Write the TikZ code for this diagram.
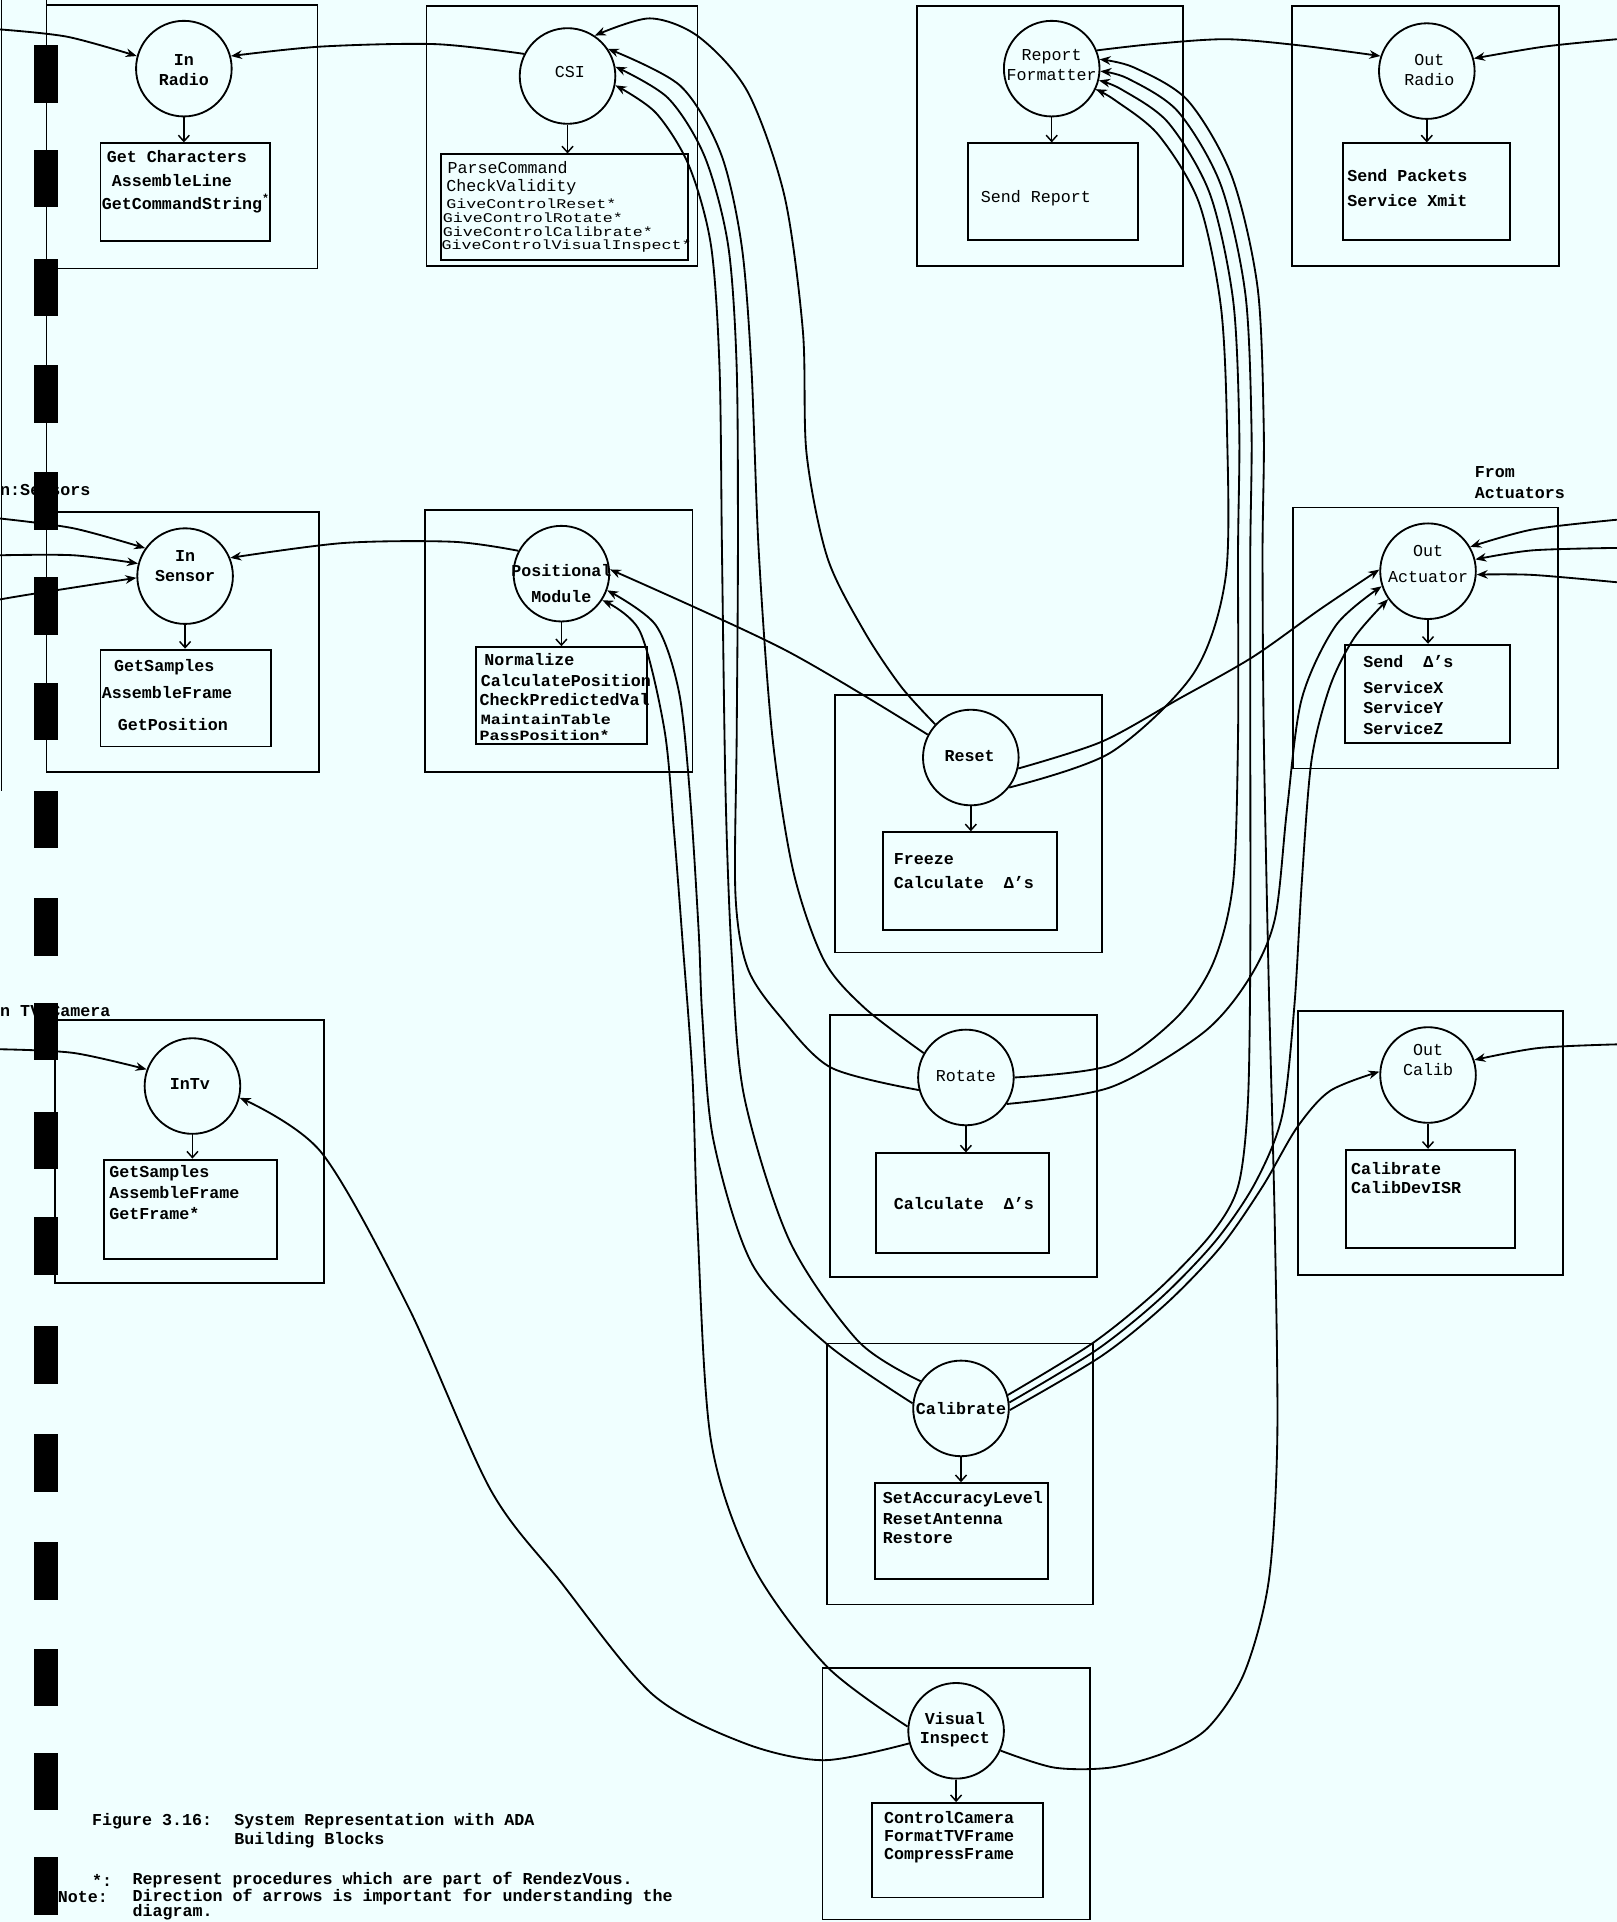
\documentclass[tikz,border=0pt]{standalone}
\usepackage{fontspec}
\setmainfont{Liberation Mono}
\usepackage{graphicx}
\usetikzlibrary{arrows.meta}
\definecolor{paper}{RGB}{240,255,255}
\tikzset{
 outerbox/.style={draw, line width=1.5pt, inner sep=0pt, rectangle},
 innerbox/.style={draw, line width=1.6pt, inner sep=0pt, rectangle},
 proc/.style={draw, circle, line width=1.5pt, minimum size=78pt, inner sep=0pt},
 ptxt/.style={font=\fontsize{13.6}{16}\selectfont\bfseries, align=center, inner sep=0pt},
 ptxtr/.style={font=\fontsize{13.6}{16}\selectfont, align=center, inner sep=0pt},
 ptxtw/.style={font=\fontsize{13.6}{21}\selectfont\bfseries, align=center, inner sep=0pt},
 btxt/.style={font=\fontsize{13.6}{16}\selectfont\bfseries, anchor=west, inner sep=0pt},
 btxtr/.style={font=\fontsize{13.6}{16}\selectfont, anchor=west, inner sep=0pt},
 conn/.style={line width=1.5pt},
 arr/.style={-{Stealth[length=9pt,width=7pt]}},
 downarr/.style={line width=1.2pt, -{Straight Barb[length=5pt,width=9pt]}},
}
\newcommand{\mkbox}[6]{\node[#1, minimum width={(#5-#3)*1pt}, minimum height={(#6-#4)*1pt}] (#2) at ({(#3+#5)/2},{(#4+#6)/2}) {};}
\begin{document}
\begin{tikzpicture}[x=1pt,y=-1pt]
\useasboundingbox (0,0) rectangle (1319,1568);
\fill[paper] (0,0) rectangle (1319,1568);
\clip (0,0) rectangle (1319,1568);

% left binder lines
\draw[line width=1.1pt] (38,0) -- (38,630);
\draw[line width=0.9pt] (1.5,0) -- (1.5,645);

% outer boxes
\mkbox{outerbox}{ob_inradio}{38}{4}{259}{219}
\mkbox{outerbox}{ob_csi}{348}{5}{569}{217}
\mkbox{outerbox}{ob_rf}{748}{5}{965}{217}
\mkbox{outerbox}{ob_outradio}{1054}{5}{1272}{217}
\mkbox{outerbox}{ob_insensor}{38}{418}{260}{630}
\mkbox{outerbox}{ob_pos}{347}{416}{565}{630}
\mkbox{outerbox}{ob_outact}{1055}{414}{1271}{627}
\mkbox{outerbox}{ob_reset}{681}{567}{899}{777}
\mkbox{outerbox}{ob_intv}{45}{832}{264}{1047}
\mkbox{outerbox}{ob_rotate}{677}{828}{895}{1042}
\mkbox{outerbox}{ob_outcalib}{1059}{825}{1275}{1040}
\mkbox{outerbox}{ob_calib}{675}{1096}{892}{1309}
\mkbox{outerbox}{ob_vi}{671}{1361}{889}{1566}

% inner boxes
\mkbox{innerbox}{ib_inradio}{82}{117}{220}{197}
\mkbox{innerbox}{ib_csi}{360}{126}{561}{212}
\mkbox{innerbox}{ib_rf}{790}{117}{928}{196}
\mkbox{innerbox}{ib_outradio}{1096}{117}{1232}{196}
\mkbox{innerbox}{ib_insensor}{82}{530}{221}{609}
\mkbox{innerbox}{ib_pos}{388}{528}{528}{607}
\mkbox{innerbox}{ib_outact}{1097}{526}{1232}{606}
\mkbox{innerbox}{ib_reset}{720}{679}{862}{759}
\mkbox{innerbox}{ib_intv}{85}{946}{226}{1027}
\mkbox{innerbox}{ib_rotate}{715}{941}{856}{1022}
\mkbox{innerbox}{ib_outcalib}{1098}{938}{1236}{1018}
\mkbox{innerbox}{ib_calib}{714}{1210}{855}{1288}
\mkbox{innerbox}{ib_vi}{711}{1471}{851}{1548}

% process circles
\node[proc] (inradio) at (150,56) {};
\node[proc] (csi) at (463,62) {};
\node[proc] (rf) at (858,56) {};
\node[proc] (outradio) at (1164,58) {};
\node[proc] (insensor) at (151,470) {};
\node[proc] (pos) at (458,468) {};
\node[proc] (outact) at (1165,466) {};
\node[proc] (reset) at (792,618) {};
\node[proc] (intv) at (157,886) {};
\node[proc] (rotate) at (788,879) {};
\node[proc] (outcalib) at (1165,877) {};
\node[proc] (calib) at (784,1149) {};
\node[proc] (vi) at (780,1412) {};

% circle labels
\node[ptxt] (l_inradio) at (150,57) {In\\Radio};
\node[ptxtr] (l_csi) at (465,59) {CSI};
\node[ptxtr] (l_rf) at (858,53) {Report\\Formatter};
\node[ptxtr] (l_outradio) at (1166,57) {Out\\Radio};
\node[ptxt] (l_insensor) at (151,462) {In\\Sensor};
\node[ptxtw] (l_pos) at (458,476) {Positional\\Module};
\node[ptxtw, font=\fontsize{13.6}{21}\selectfont] (l_outact) at (1165,460) {Out\\Actuator};
\node[ptxt] (l_reset) at (791,617) {Reset};
\node[ptxt] (l_intv) at (155,884) {InTv};
\node[ptxtr] (l_rotate) at (788,878) {Rotate};
\node[ptxtr] (l_outcalib) at (1165,865) {Out\\Calib};
\node[ptxt] (l_calib) at (784,1149) {Calibrate};
\node[ptxt] (l_vi) at (779,1411) {Visual\\Inspect};

% down arrows circle -> procedure box
\foreach \c/\b in {inradio/ib_inradio, csi/ib_csi, rf/ib_rf, outradio/ib_outradio, insensor/ib_insensor, pos/ib_pos, outact/ib_outact, reset/ib_reset, intv/ib_intv, rotate/ib_rotate, outcalib/ib_outcalib, calib/ib_calib, vi/ib_vi}
  \draw[downarr] (\c.south) -- (\c.south |- \b.north);

% procedure texts
\node[btxt] (t1a) at (87,128) {Get Characters};
\node[btxt] (t1b) at (91,147) {AssembleLine};
\node[btxt] (t1c) at (83,166) {GetCommandString\textsuperscript{*}};
\node[btxtr] (t2a) at (365,137) {ParseCommand};
\node[btxtr] (t2b) at (364,153) {CheckValidity};
\node[btxtr] (t2c) at (364,166) {\scalebox{1}[0.8]{GiveControlReset*}};
\node[btxtr] (t2d) at (361,178) {\scalebox{1}[0.8]{GiveControlRotate*}};
\node[btxtr] (t2e) at (361,189) {\scalebox{1}[0.8]{GiveControlCalibrate*}};
\node[btxtr] (t2f) at (360,201) {\scalebox{1}[0.8]{GiveControlVisualInspect*}};
\node[btxtr] (t3a) at (800,162) {Send Report};
\node[btxt] (t4a) at (1099,143) {Send Packets};
\node[btxt] (t4b) at (1099,164) {Service Xmit};
\node[btxt] (t5a) at (93,544) {GetSamples};
\node[btxt] (t5b) at (83,565) {AssembleFrame};
\node[btxt] (t5c) at (96,591) {GetPosition};
\node[btxt] (t6a) at (395,538) {Normalize};
\node[btxt] (t6b) at (392,555) {CalculatePosition};
\node[btxt] (t6c) at (391,571) {CheckPredictedVal};
\node[btxt] (t6d) at (392,587) {\scalebox{1}[0.85]{MaintainTable}};
\node[btxt] (t6e) at (391,600) {\scalebox{1}[0.85]{PassPosition*}};
\node[btxt] (t7a) at (1112,540) {Send\ \ Δ's};
\node[btxt] (t7b) at (1112,561) {ServiceX};
\node[btxt] (t7c) at (1112,577) {ServiceY};
\node[btxt] (t7d) at (1112,594) {ServiceZ};
\node[btxt] (t8a) at (729,701) {Freeze};
\node[btxt] (t8b) at (729,720) {Calculate\ \ Δ's};
\node[btxt] (t9a) at (89,957) {GetSamples};
\node[btxt] (t9b) at (89,973) {AssembleFrame};
\node[btxt] (t9c) at (89,990) {GetFrame*};
\node[btxt] (t10a) at (729,982) {Calculate\ \ Δ's};
\node[btxt] (t11a) at (1102,953) {Calibrate};
\node[btxt] (t11b) at (1102,969) {CalibDevISR};
\node[btxt] (t12a) at (720,1223) {SetAccuracyLevel};
\node[btxt] (t12b) at (720,1239) {ResetAntenna};
\node[btxt] (t12c) at (720,1255) {Restore};
\node[btxt] (t13a) at (721,1483) {ControlCamera};
\node[btxt] (t13b) at (721,1498) {FormatTVFrame};
\node[btxt] (t13c) at (721,1514) {CompressFrame};

% outside labels
\node[btxt] (lbl_sens) at (0,400) {n:Sensors};
\node[btxt] (lbl_tv) at (0,825) {n TV Camera};
\node[btxt] (lbl_act1) at (1203,385) {From};
\node[btxt] (lbl_act2) at (1203,402) {Actuators};

% caption
\node[btxt] (cap1) at (75,1486) {Figure 3.16:};
\node[btxt] (cap2) at (191,1486) {System Representation with ADA};
\node[btxt] (cap3) at (191,1501) {Building Blocks};
\node[btxt] (cap4) at (75,1534) {*:};
\node[btxt] (cap5) at (108,1534) {Represent procedures which are part of RendezVous.};
\node[btxt] (cap6) at (47,1548) {Note:};
\node[btxt] (cap7) at (108,1548) {Direction of arrows is important for understanding the};
\node[btxt] (cap8) at (108,1560) {diagram.};

% free ends at page edges
\coordinate (eL1) at (0,24);
\coordinate (eL2) at (0,423);
\coordinate (eL3) at (0,453);
\coordinate (eL4) at (0,489);
\coordinate (eL5) at (0,856);
\coordinate (eR1) at (1319,32);
\coordinate (eR2) at (1319,424);
\coordinate (eR3) at (1319,447);
\coordinate (eR4) at (1319,475);
\coordinate (eR5) at (1319,852);

% short connectors
\draw[conn,arr] plot[smooth] coordinates {(eL1) (55,30) (inradio.165)};
\draw[conn,arr] plot[smooth] coordinates {(csi.153) (355,36) (262,38) (inradio.15)};
\draw[conn,arr] plot[smooth] coordinates {(rf.22) (940,36) (1000,32) (1060,37) (outradio.162)};
\draw[conn,arr] plot[smooth] coordinates {(eR1) (1260,38) (outradio.15)};
\draw[conn,arr] plot[smooth] coordinates {(eL2) (60,431) (insensor.145)};
\draw[conn,arr] plot[smooth] coordinates {(eL3) (60,453) (insensor.165)};
\draw[conn,arr] plot[smooth] coordinates {(eL4) (30,484) (insensor.182)};
\draw[conn,arr] plot[smooth] coordinates {(pos.152) (370,442) (280,443) (insensor.22)};
\draw[conn,arr] plot[smooth] coordinates {(eR2) (1250,432) (outact.30)};
\draw[conn,arr] plot[smooth] coordinates {(eR3) (1250,449) (outact.14)};
\draw[conn,arr] plot[smooth] coordinates {(eR4) (1250,469) (outact.-4)};
\draw[conn,arr] plot[smooth] coordinates {(eL5) (60,859) (intv.160)};
\draw[conn,arr] plot[smooth] coordinates {(eR5) (1255,855) (outcalib.18)};

% long connectors, left group
\draw[conn,arr] plot[smooth] coordinates {(reset.137) (735,560) (705,515) (675,455) (658,370) (655,270) (640,160) (610,75) (570,30) (530,15) (csi.56)};
\draw[conn,arr] plot[smooth] coordinates {(reset.152) (640,530) (pos.5)};
\draw[conn,arr] plot[smooth] coordinates {(rotate.150) (705,822) (672,783) (647,710) (630,600) (619,450) (613,300) (605,200) (588,125) (555,70) (csi.34)};
\draw[conn,arr] plot[smooth] coordinates {(rotate.195) (678,871) (637,830) (610,790) (600,730) (601,600) (602,450) (601,300) (594,200) (575,128) (545,80) (csi.11)};
\draw[conn,arr] plot[smooth] coordinates {(calib.146) (700,1094) (644,1012) (607,894) (597,780) (592,650) (589,450) (587,300) (580,200) (562,135) (535,92) (csi.-11)};
\draw[conn,arr] plot[smooth] coordinates {(calib.174) (674,1096) (614,1032) (582,930) (573,830) (570,760) (563,650) (554,565) (535,510) (pos.-20)};
\draw[conn,arr] plot[smooth] coordinates {(vi.175) (674,1359) (614,1277) (580,1175) (569,1000) (565,880) (557,770) (550,680) (542,595) (522,515) (pos.-33)};
\draw[conn,arr] plot[smooth] coordinates {(vi.195) (672,1436) (607,1422) (532,1382) (457,1290) (400,1215) (333,1066) (262,940) (intv.-14)};

% long connectors, right group
\draw[conn,arr] plot[smooth] coordinates {(reset.-13) (899,605) (962,570) (1022,536) (1077,497) (outact.178)};
\draw[conn,arr] plot[smooth] coordinates {(reset.-38) (906,614) (974,549) (1000,470) (1001,350) (996,250) (978,165) (945,110) (910,82) (rf.-25)};
\draw[conn,arr] plot[smooth] coordinates {(rotate.0) (906,869) (960,830) (990,785) (1006,720) (1010,600) (1010,450) (1011,350) (1006,245) (987,158) (953,100) (915,73) (rf.-14)};
\draw[conn,arr] plot[smooth] coordinates {(rotate.-33) (906,887) (981,843) (1018,800) (1040,750) (1050,660) (1062,570) (1090,510) (outact.198)};
\draw[conn,arr] plot[smooth] coordinates {(calib.16) (891,1096) (944,1053) (988,1007) (1010,968) (1018,900) (1020,780) (1020,600) (1020,450) (1021,350) (1016,240) (996,151) (961,91) (920,64) (rf.-3)};
\draw[conn,arr] plot[smooth] coordinates {(calib.7) (895,1101) (948,1058) (992,1012) (1024,965) (1046,910) (1056,820) (1062,720) (1070,620) (1085,560) (1105,520) (outact.215)};
\draw[conn,arr] plot[smooth] coordinates {(calib.-2) (899,1106) (952,1063) (996,1017) (1030,968) (1058,920) (1085,890) (outcalib.176)};
\draw[conn,arr] plot[smooth] coordinates {(vi.-24) (860,1442) (906,1442) (950,1430) (985,1410) (1015,1365) (1035,1290) (1042,1175) (1040,1000) (1035,800) (1031,600) (1030,450) (1031,350) (1026,235) (1005,144) (969,82) (925,55) (rf.11)};

% binder holes
\foreach \yy in {37,122,211,298,385,471,557,645,733,818,907,993,1082,1170,1258,1345,1430,1515}
  \fill[black] (28,\yy) rectangle (47,\yy+47);
\end{tikzpicture}
\end{document}
